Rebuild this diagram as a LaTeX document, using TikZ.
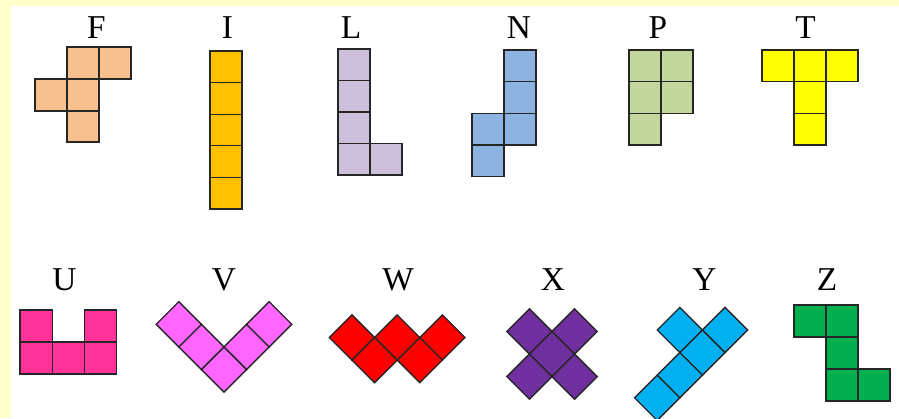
\documentclass[tikz,border=0pt]{standalone}
\usepackage{fontspec}
\setmainfont{Liberation Serif}
\definecolor{bgyellow}{HTML}{FFFFCC}
\definecolor{cF}{HTML}{F8C08F}
\definecolor{cI}{HTML}{FFC000}
\definecolor{cL}{HTML}{CCC0DA}
\definecolor{cN}{HTML}{8DB3E2}
\definecolor{cP}{HTML}{C3D69B}
\definecolor{cT}{HTML}{FFFF00}
\definecolor{cU}{HTML}{FF3399}
\definecolor{cV}{HTML}{FF66FF}
\definecolor{cW}{HTML}{FF0000}
\definecolor{cX}{HTML}{7030A0}
\definecolor{cY}{HTML}{00B0F0}
\definecolor{cZ}{HTML}{00B050}
\tikzset{
  cell/.style={draw=black!85, line width=1pt, line join=miter},
  lab/.style={anchor=base, inner sep=0pt, font=\fontsize{25}{30}\selectfont, text=black}
}
\newcommand{\pcell}[5]{\draw[cell,fill=#5] (#1,#2) rectangle ++(#3,#4);}
\newcommand{\pdia}[3]{\draw[cell,fill=#3] (#1,#2) ++(0,-22.6) -- ++(22.6,22.6) -- ++(-22.6,22.6) -- ++(-22.6,-22.6) -- cycle;}
\begin{document}
\begin{tikzpicture}[x=0.75pt,y=-0.75pt]
\useasboundingbox (0,0) rectangle (899,418);
\clip (0,0) rectangle (899,418);
\fill[bgyellow] (0,0) rectangle (899,418);
\fill[white] (11,6) rectangle (899,418);
% labels
\node[lab] (lF) at (96.5,38) {F};
\node[lab] (lI) at (227.5,38) {I};
\node[lab] (lL) at (351,38) {L};
\node[lab] (lN) at (519,38) {N};
\node[lab] (lP) at (658,38) {P};
\node[lab] (lT) at (805.5,38) {T};
\node[lab] (lU) at (64.5,290.5) {U};
\node[lab] (lV) at (224,290.5) {V};
\node[lab] (lW) at (398,290.5) {W};
\node[lab] (lX) at (553,290.5) {X};
\node[lab] (lY) at (704.5,290.5) {Y};
\node[lab] (lZ) at (827,290.5) {Z};
% F
\pcell{67}{47}{32}{32}{cF}
\pcell{99}{47}{32}{32}{cF}
\pcell{35}{79}{32}{32}{cF}
\pcell{67}{79}{32}{32}{cF}
\pcell{67}{111}{32}{31}{cF}
% I
\foreach \k in {0,...,4}{\pcell{210}{51+\k*31.6}{32}{31.6}{cI}}
% L
\foreach \k in {0,...,3}{\pcell{338}{49+\k*31.5}{32}{31.5}{cL}}
\pcell{370}{143.5}{32}{31.5}{cL}
% N
\foreach \k in {0,...,2}{\pcell{504}{50+\k*31.7}{32}{31.7}{cN}}
\pcell{472}{113.4}{32}{31.7}{cN}
\pcell{472}{145.1}{32}{31.7}{cN}
% P
\foreach \k in {0,...,2}{\pcell{629}{50+\k*31.7}{32}{31.7}{cP}}
\pcell{661}{50}{32}{31.7}{cP}
\pcell{661}{81.7}{32}{31.7}{cP}
% T
\foreach \k in {0,...,2}{\pcell{762+\k*32}{50}{32}{31.7}{cT}}
\pcell{794}{81.7}{32}{31.7}{cT}
\pcell{794}{113.4}{32}{31.7}{cT}
% U
\pcell{20}{310}{32.2}{32}{cU}
\pcell{84.4}{310}{32.2}{32}{cU}
\foreach \k in {0,...,2}{\pcell{20+\k*32.2}{342}{32.2}{32}{cU}}
% V
\pdia{224}{369.5}{cV}
\pdia{201.4}{346.9}{cV}
\pdia{178.8}{324.3}{cV}
\pdia{246.6}{346.9}{cV}
\pdia{269.2}{324.3}{cV}
% W
\pdia{352}{337.5}{cW}
\pdia{397.2}{337.5}{cW}
\pdia{442.4}{337.5}{cW}
\pdia{374.6}{360.1}{cW}
\pdia{419.8}{360.1}{cW}
% X
\pdia{552}{354}{cX}
\pdia{529.4}{331.4}{cX}
\pdia{574.6}{331.4}{cX}
\pdia{529.4}{376.6}{cX}
\pdia{574.6}{376.6}{cX}
% Y
\pdia{725}{330}{cY}
\pdia{702.4}{352.6}{cY}
\pdia{679.8}{375.2}{cY}
\pdia{657.2}{397.8}{cY}
\pdia{679.8}{330}{cY}
% Z
\pcell{794}{305}{32}{32}{cZ}
\pcell{826}{305}{32}{32}{cZ}
\pcell{826}{337}{32}{32}{cZ}
\pcell{826}{369}{32}{32}{cZ}
\pcell{858}{369}{32}{32}{cZ}
\end{tikzpicture}
\end{document}
